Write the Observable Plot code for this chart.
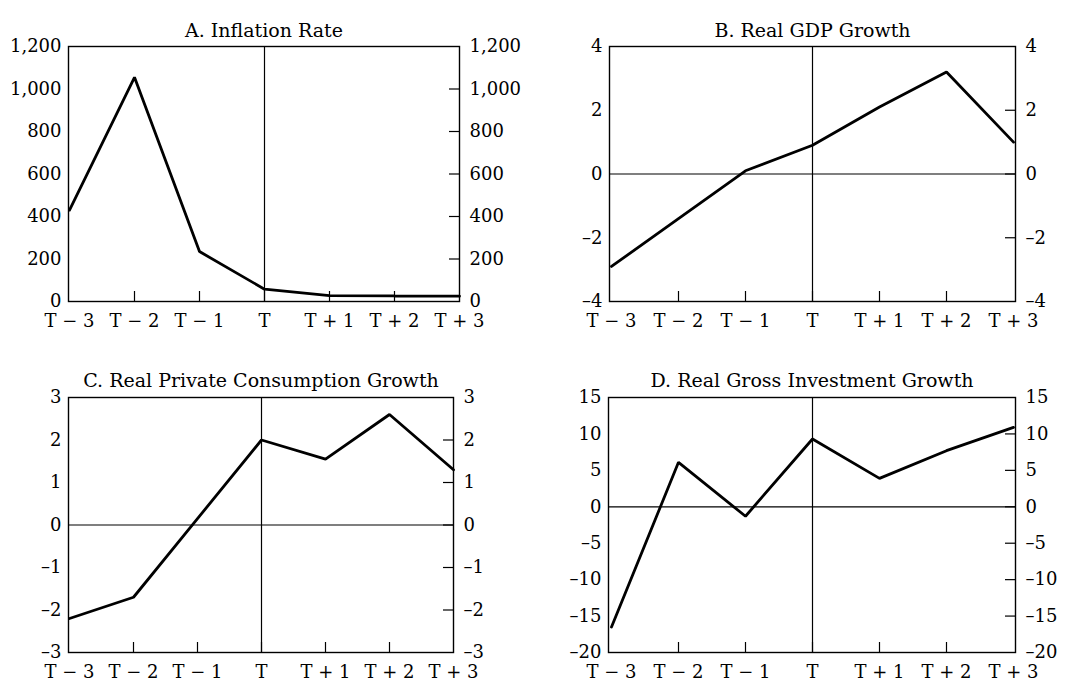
<!DOCTYPE html>
<html>
<head>
<meta charset="utf-8">
<script src="https://cdn.jsdelivr.net/npm/d3@7"></script>
<script src="https://cdn.jsdelivr.net/npm/@observablehq/plot@0.6"></script>
<style>
  html, body { margin: 0; padding: 0; background: white; }
  #wrap { position: relative; width: 1078px; height: 683px; }
  .panel { position: absolute; }
</style>
</head>
<body>
<div id="wrap"></div>
<script>
// ---- data ----
const periods = ["T \u2212 3", "T \u2212 2", "T \u2212 1", "T", "T + 1", "T + 2", "T + 3"];
const inflation = [430, 1055, 235, 58, 28, 26, 25];
const gdpGrowth = [-2.9, -1.4, 0.1, 0.9, 2.1, 3.2, 1.0];
const consumptionGrowth = [-2.2, -1.7, 0.15, 2.0, 1.55, 2.6, 1.3];
const investmentGrowth = [-16.5, 6.1, -1.3, 9.3, 3.9, 7.7, 10.9];

const inflationTicks = [0, 200, 400, 600, 800, 1000, 1200];
const gdpTicks = [-4, -2, 0, 2, 4];
const consumptionTicks = [-3, -2, -1, 0, 1, 2, 3];
const investmentTicks = [-20, -15, -10, -5, 0, 5, 10, 15];

const titles = ["A. Inflation Rate", "B. Real GDP Growth", "C. Real Private Consumption Growth", "D. Real Gross Investment Growth"];

// ---- drawing ----
const FONT = "'DejaVu Serif', serif";
const fmt = d => (d < 0 ? "\u2013" : "") + d3.format(",")(Math.abs(d));
const innerPeriods = periods.slice(1, -1);

function panel({title, values, ticks, left, top, width, height, mL, mR, mT, mB, zeroLine, titleDy}) {
  const data = periods.map((p, i) => ({period: p, value: values[i]}));
  const plotW = width - mL - mR;
  const plotH = height - mT - mB;
  const innerTicks = ticks.slice(1, -1);
  const chart = Plot.plot({
    width, height,
    marginLeft: mL, marginRight: mR, marginTop: mT, marginBottom: mB,
    style: {fontFamily: FONT, fontSize: "18px", color: "black", background: "white", overflow: "visible"},
    x: {type: "point", domain: periods, padding: 0, label: null},
    y: {domain: [ticks[0], ticks[ticks.length - 1]], label: null},
    marks: [
      Plot.axisY(ticks, {anchor: "left", tickSize: 0, tickPadding: 7, tickFormat: fmt, label: null, fontSize: 18, fill: "black"}),
      Plot.axisY(ticks, {anchor: "right", tickSize: 0, tickPadding: 10, tickFormat: fmt, label: null, fontSize: 18, fill: "black"}),
      Plot.axisX(periods, {anchor: "bottom", tickSize: 0, tickPadding: 13, label: null, fontSize: 18, fill: "black"}),
      Plot.ruleX(innerPeriods, {x: d => d, stroke: "black", strokeWidth: 1.2, insetTop: plotH - 10}),
      Plot.ruleY(innerTicks, {y: d => d, stroke: "black", strokeWidth: 1.2, insetLeft: plotW - 10}),
      Plot.ruleX(["T"], {x: d => d, stroke: "black", strokeWidth: 1.2}),
      ...(zeroLine ? [Plot.ruleY([0], {stroke: "black", strokeWidth: 1.2})] : []),
      Plot.line(data, {x: "period", y: "value", stroke: "black", strokeWidth: 2.8, strokeLinejoin: "miter"}),
      Plot.frame({stroke: "black", strokeWidth: 1.4}),
      Plot.text([title], {frameAnchor: "top", dy: titleDy, fontSize: 19, fill: "black", fontFamily: FONT})
    ]
  });
  const div = document.createElement("div");
  div.className = "panel";
  div.style.left = left + "px";
  div.style.top = top + "px";
  div.appendChild(chart);
  document.getElementById("wrap").appendChild(div);
}

panel({title: titles[0], values: inflation, ticks: inflationTicks, left: 0, top: 0, width: 539, height: 330, mL: 68, mR: 80, mT: 46, mB: 29, zeroLine: false, titleDy: -23});
panel({title: titles[1], values: gdpGrowth, ticks: gdpTicks, left: 538, top: 0, width: 540, height: 330, mL: 71, mR: 63, mT: 46, mB: 29, zeroLine: true, titleDy: -23});
panel({title: titles[2], values: consumptionGrowth, ticks: consumptionTicks, left: 0, top: 330, width: 539, height: 353, mL: 68, mR: 86, mT: 67, mB: 31, zeroLine: true, titleDy: -24});
panel({title: titles[3], values: investmentGrowth, ticks: investmentTicks, left: 538, top: 330, width: 540, height: 353, mL: 70, mR: 63, mT: 67, mB: 31, zeroLine: true, titleDy: -24});
</script>
</body>
</html>
